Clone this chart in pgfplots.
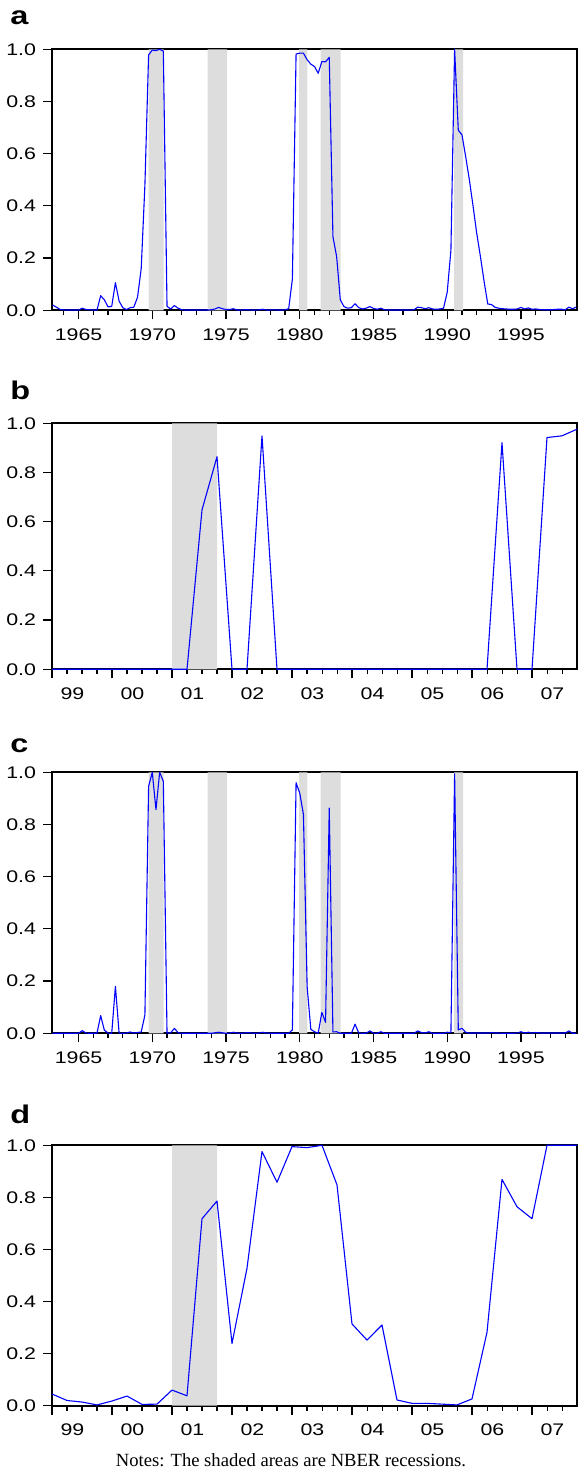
\documentclass[border=0pt]{standalone}
\usepackage{fontspec}
\setmainfont{Liberation Sans}[FakeStretch=1.27]
\newfontfamily\notesfont{Liberation Serif}
\usepackage{pgfplots}
\pgfplotsset{compat=1.18}
\definecolor{nber}{RGB}{221,221,221}
\definecolor{probline}{RGB}{0,0,255}

% recession probabilities, quarterly
\pgfplotstableread[row sep=\\]{
x y\\
1963.25 0.020\\ 1963.50 0.012\\ 1963.75 0.003\\
1964.00 0.002\\ 1964.25 0.001\\ 1964.50 0.001\\ 1964.75 0.001\\
1965.00 0.001\\ 1965.25 0.008\\ 1965.50 0.003\\ 1965.75 0.002\\
1966.00 0.001\\ 1966.25 0.001\\ 1966.50 0.056\\ 1966.75 0.040\\
1967.00 0.013\\ 1967.25 0.015\\ 1967.50 0.106\\ 1967.75 0.035\\
1968.00 0.010\\ 1968.25 0.003\\ 1968.50 0.010\\ 1968.75 0.012\\
1969.00 0.050\\ 1969.25 0.160\\ 1969.50 0.480\\ 1969.75 0.978\\
1970.00 0.997\\ 1970.25 0.995\\ 1970.50 1.000\\ 1970.75 0.993\\
1971.00 0.015\\ 1971.25 0.005\\ 1971.50 0.018\\ 1971.75 0.008\\
1972.00 0.002\\ 1972.25 0.001\\ 1972.50 0.001\\ 1972.75 0.001\\
1973.00 0.001\\ 1973.25 0.001\\ 1973.50 0.001\\ 1973.75 0.001\\
1974.00 0.002\\ 1974.25 0.005\\ 1974.50 0.011\\ 1974.75 0.006\\
1975.00 0.003\\ 1975.25 0.003\\ 1975.50 0.006\\ 1975.75 0.001\\
1976.00 0.001\\ 1976.25 0.002\\ 1976.50 0.002\\ 1976.75 0.001\\
1977.00 0.001\\ 1977.25 0.002\\ 1977.50 0.004\\ 1977.75 0.001\\
1978.00 0.001\\ 1978.25 0.002\\ 1978.50 0.001\\ 1978.75 0.001\\
1979.00 0.002\\ 1979.25 0.006\\ 1979.50 0.120\\ 1979.75 0.982\\
1980.00 0.985\\ 1980.25 0.985\\ 1980.50 0.960\\ 1980.75 0.943\\
1981.00 0.934\\ 1981.25 0.908\\ 1981.50 0.953\\ 1981.75 0.952\\
1982.00 0.969\\ 1982.25 0.282\\ 1982.50 0.206\\ 1982.75 0.040\\
1983.00 0.014\\ 1983.25 0.008\\ 1983.50 0.010\\ 1983.75 0.025\\
1984.00 0.010\\ 1984.25 0.005\\ 1984.50 0.008\\ 1984.75 0.014\\
1985.00 0.007\\ 1985.25 0.004\\ 1985.50 0.008\\ 1985.75 0.002\\
1986.00 0.001\\ 1986.25 0.001\\ 1986.50 0.001\\ 1986.75 0.001\\
1987.00 0.001\\ 1987.25 0.001\\ 1987.50 0.001\\ 1987.75 0.002\\
1988.00 0.012\\ 1988.25 0.010\\ 1988.50 0.006\\ 1988.75 0.010\\
1989.00 0.005\\ 1989.25 0.004\\ 1989.50 0.005\\ 1989.75 0.008\\
1990.00 0.070\\ 1990.25 0.230\\ 1990.50 1.000\\ 1990.75 0.690\\
1991.00 0.672\\ 1991.25 0.589\\ 1991.50 0.500\\ 1991.75 0.400\\
1992.00 0.295\\ 1992.25 0.206\\ 1992.50 0.110\\ 1992.75 0.024\\
1993.00 0.022\\ 1993.25 0.011\\ 1993.50 0.008\\ 1993.75 0.006\\
1994.00 0.005\\ 1994.25 0.004\\ 1994.50 0.004\\ 1994.75 0.005\\
1995.00 0.011\\ 1995.25 0.005\\ 1995.50 0.009\\ 1995.75 0.004\\
1996.00 0.005\\ 1996.25 0.003\\ 1996.50 0.002\\ 1996.75 0.002\\
1997.00 0.002\\ 1997.25 0.003\\ 1997.50 0.004\\ 1997.75 0.004\\
1998.00 0.002\\ 1998.25 0.012\\ 1998.50 0.006\\ 1998.75 0.012\\
}\tablea

\pgfplotstableread[row sep=\\]{
x y\\
1999.00 0\\ 1999.25 0\\ 1999.50 0\\ 1999.75 0\\
2000.00 0\\ 2000.25 0\\ 2000.50 0\\ 2000.75 0\\
2001.00 0\\ 2001.25 0\\ 2001.50 0.648\\ 2001.75 0.864\\
2002.00 0\\ 2002.25 0\\ 2002.50 0.949\\ 2002.75 0\\
2003.00 0\\ 2003.25 0\\ 2003.50 0\\ 2003.75 0\\
2004.00 0\\ 2004.25 0\\ 2004.50 0\\ 2004.75 0\\
2005.00 0\\ 2005.25 0\\ 2005.50 0\\ 2005.75 0\\
2006.00 0\\ 2006.25 0\\ 2006.50 0.921\\ 2006.75 0\\
2007.00 0\\ 2007.25 0.942\\ 2007.50 0.949\\ 2007.75 0.976\\
}\tableb

\pgfplotstableread[row sep=\\]{
x y\\
1963.25 0\\ 1963.50 0\\ 1963.75 0\\
1964.00 0\\ 1964.25 0\\ 1964.50 0\\ 1964.75 0\\
1965.00 0\\ 1965.25 0.010\\ 1965.50 0.001\\ 1965.75 0\\
1966.00 0\\ 1966.25 0\\ 1966.50 0.068\\ 1966.75 0.012\\
1967.00 0.001\\ 1967.25 0\\ 1967.50 0.180\\ 1967.75 0.001\\
1968.00 0\\ 1968.25 0.001\\ 1968.50 0.005\\ 1968.75 0.001\\
1969.00 0.003\\ 1969.25 0.005\\ 1969.50 0.070\\ 1969.75 0.946\\
1970.00 1.000\\ 1970.25 0.857\\ 1970.50 1.000\\ 1970.75 0.965\\
1971.00 0\\ 1971.25 0.002\\ 1971.50 0.019\\ 1971.75 0.002\\
1972.00 0\\ 1972.25 0\\ 1972.50 0\\ 1972.75 0\\
1973.00 0\\ 1973.25 0\\ 1973.50 0\\ 1973.75 0\\
1974.00 0\\ 1974.25 0.002\\ 1974.50 0.004\\ 1974.75 0.002\\
1975.00 0\\ 1975.25 0.001\\ 1975.50 0.004\\ 1975.75 0.001\\
1976.00 0\\ 1976.25 0.001\\ 1976.50 0.003\\ 1976.75 0.001\\
1977.00 0\\ 1977.25 0.001\\ 1977.50 0.004\\ 1977.75 0.001\\
1978.00 0\\ 1978.25 0\\ 1978.50 0\\ 1978.75 0\\
1979.00 0\\ 1979.25 0\\ 1979.50 0.013\\ 1979.75 0.960\\
1980.00 0.920\\ 1980.25 0.838\\ 1980.50 0.179\\ 1980.75 0.015\\
1981.00 0.006\\ 1981.25 0\\ 1981.50 0.080\\ 1981.75 0.042\\
1982.00 0.863\\ 1982.25 0.005\\ 1982.50 0.006\\ 1982.75 0\\
1983.00 0\\ 1983.25 0\\ 1983.50 0\\ 1983.75 0.035\\
1984.00 0.001\\ 1984.25 0\\ 1984.50 0\\ 1984.75 0.009\\
1985.00 0.001\\ 1985.25 0\\ 1985.50 0.006\\ 1985.75 0\\
1986.00 0\\ 1986.25 0\\ 1986.50 0\\ 1986.75 0\\
1987.00 0\\ 1987.25 0\\ 1987.50 0\\ 1987.75 0\\
1988.00 0.009\\ 1988.25 0.003\\ 1988.50 0.001\\ 1988.75 0.006\\
1989.00 0\\ 1989.25 0\\ 1989.50 0\\ 1989.75 0\\
1990.00 0.004\\ 1990.25 0.003\\ 1990.50 0.994\\ 1990.75 0.013\\
1991.00 0.019\\ 1991.25 0.004\\ 1991.50 0.001\\ 1991.75 0.001\\
1992.00 0.001\\ 1992.25 0.001\\ 1992.50 0.001\\ 1992.75 0.001\\
1993.00 0.003\\ 1993.25 0.001\\ 1993.50 0.001\\ 1993.75 0\\
1994.00 0\\ 1994.25 0\\ 1994.50 0\\ 1994.75 0.001\\
1995.00 0.006\\ 1995.25 0.001\\ 1995.50 0.004\\ 1995.75 0.001\\
1996.00 0.003\\ 1996.25 0.001\\ 1996.50 0.001\\ 1996.75 0.001\\
1997.00 0.001\\ 1997.25 0.001\\ 1997.50 0.001\\ 1997.75 0.001\\
1998.00 0.001\\ 1998.25 0.009\\ 1998.50 0\\ 1998.75 0\\
}\tablec

\pgfplotstableread[row sep=\\]{
x y\\
1999.00 0.045\\ 1999.25 0.020\\ 1999.50 0.014\\ 1999.75 0.003\\
2000.00 0.018\\ 2000.25 0.037\\ 2000.50 0.005\\ 2000.75 0.006\\
2001.00 0.060\\ 2001.25 0.038\\ 2001.50 0.718\\ 2001.75 0.786\\
2002.00 0.239\\ 2002.25 0.528\\ 2002.50 0.976\\ 2002.75 0.858\\
2003.00 0.995\\ 2003.25 0.991\\ 2003.50 1.000\\ 2003.75 0.848\\
2004.00 0.314\\ 2004.25 0.252\\ 2004.50 0.310\\ 2004.75 0.022\\
2005.00 0.009\\ 2005.25 0.009\\ 2005.50 0.006\\ 2005.75 0.003\\
2006.00 0.026\\ 2006.25 0.282\\ 2006.50 0.869\\ 2006.75 0.764\\
2007.00 0.718\\ 2007.25 1.000\\ 2007.50 1.000\\ 2007.75 1.000\\
}\tabled

\pgfplotsset{
  panel/.style={
    scale only axis, width=262.5pt, anchor=south west,
    ymin=0, ymax=1, ytick={0,0.2,0.4,0.6,0.8,1},
    xtick pos=left, ytick pos=left, tick align=outside,
    major tick length=4.5pt, minor tick length=2.5pt,
    tick style={black, line width=0.6pt},
    axis line style={line width=0.8pt},
    tick label style={font=\fontsize{8.4}{10}\selectfont},
    xticklabel style={yshift=-1pt},
    /pgf/number format/assume math mode=true,
    yticklabel style={/pgf/number format/.cd, fixed, fixed zerofill, precision=1},
    clip=false,
  },
  longrun/.style={panel,
    xmin=1963.2, xmax=1998.8,
    xtick={1965,1970,1975,1980,1985,1990,1995},
    xticklabels={1965,1970,1975,1980,1985,1990,1995},
    minor xtick={1964,1965,...,1998},
  },
  recent/.style={panel,
    xmin=1999, xmax=2007.75,
    xtick={1999,2000,...,2007},
    xticklabels={99,00,01,02,03,04,05,06,07},
    xticklabel style={xshift=10.25pt},
    minor xtick={1999,1999.25,...,2007.75},
  },
  prob/.style={probline, line width=0.55pt, line join=round},
  shade/.style={draw=none, fill=nber},
}

\begin{document}
\begin{tikzpicture}
\path[use as bounding box] (0,0) rectangle (290pt,736pt);

% panel a
\begin{axis}[longrun, at={(26pt,580.85pt)}, height=130.5pt]
\addplot[shade] coordinates {(1969.75,0) (1969.75,1) (1970.77,1) (1970.77,0)} \closedcycle;
\addplot[shade] coordinates {(1973.75,0) (1973.75,1) (1975.08,1) (1975.08,0)} \closedcycle;
\addplot[shade] coordinates {(1979.95,0) (1979.95,1) (1980.52,1) (1980.52,0)} \closedcycle;
\addplot[shade] coordinates {(1981.42,0) (1981.42,1) (1982.77,1) (1982.77,0)} \closedcycle;
\addplot[shade] coordinates {(1990.46,0) (1990.46,1) (1991.08,1) (1991.08,0)} \closedcycle;
\addplot[prob] table {\tablea};
\end{axis}

% panel b
\begin{axis}[recent, at={(26pt,401.35pt)}, height=123pt]
\addplot[shade] coordinates {(2001,0) (2001,1) (2001.75,1) (2001.75,0)} \closedcycle;
\addplot[prob] table {\tableb};
\end{axis}

% panel c
\begin{axis}[longrun, at={(26pt,219.35pt)}, height=130.5pt]
\addplot[shade] coordinates {(1969.75,0) (1969.75,1) (1970.77,1) (1970.77,0)} \closedcycle;
\addplot[shade] coordinates {(1973.75,0) (1973.75,1) (1975.08,1) (1975.08,0)} \closedcycle;
\addplot[shade] coordinates {(1979.95,0) (1979.95,1) (1980.52,1) (1980.52,0)} \closedcycle;
\addplot[shade] coordinates {(1981.42,0) (1981.42,1) (1982.77,1) (1982.77,0)} \closedcycle;
\addplot[shade] coordinates {(1990.46,0) (1990.46,1) (1991.08,1) (1991.08,0)} \closedcycle;
\addplot[prob] table {\tablec};
\end{axis}

% panel d
\begin{axis}[recent, at={(26pt,33.15pt)}, height=130.2pt]
\addplot[shade] coordinates {(2001,0) (2001,1) (2001.75,1) (2001.75,0)} \closedcycle;
\addplot[prob] table {\tabled};
\end{axis}

\begin{scope}[every node/.style={anchor=base west, inner sep=0pt, font=\bfseries\fontsize{12.8}{14}\selectfont}]
\node at (5pt,723.5pt) {a};
\node at (5pt,536pt) {b};
\node at (5pt,359.65pt) {c};
\node at (5pt,174.35pt) {d};
\end{scope}
\node[anchor=base, inner sep=0pt, font=\notesfont\fontsize{9.3}{11}\selectfont] at (145.5pt,2.5pt) {Notes: The shaded areas are NBER recessions.};
\end{tikzpicture}
\end{document}
